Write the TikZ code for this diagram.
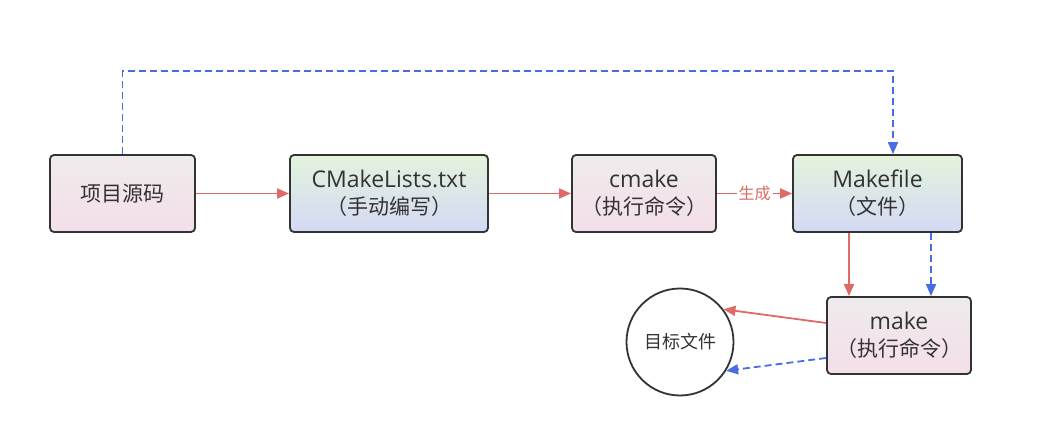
\documentclass[tikz,border=0pt]{standalone}
\usepackage{fontspec}
\setmainfont{Noto Sans CJK SC}
\newfontfamily\lat{Open Sans}
\usetikzlibrary{arrows.meta}
\definecolor{redl}{RGB}{222,106,104}
\definecolor{bluel}{RGB}{72,108,226}
\definecolor{gtop}{RGB}{238,235,236}
\definecolor{gbot}{RGB}{244,222,234}
\definecolor{ctop}{RGB}{227,243,220}
\definecolor{cbot}{RGB}{211,217,245}
\definecolor{txt}{RGB}{51,51,51}
\newcommand\latn[1]{{\lat\fontsize{23}{27}\selectfont #1}}
\begin{document}
\begin{tikzpicture}[x=1pt,y=-1pt,
  box/.style={draw=txt, line width=1.8pt, rounded corners=4pt, minimum height=77pt,
    align=center, text=txt, font=\fontsize{21}{27}\selectfont, inner sep=0pt},
  pinkbox/.style={box, top color=gtop, bottom color=gbot},
  greenbox/.style={box, top color=ctop, bottom color=cbot},
  redarr/.style={draw=redl, line width=1.8pt, -{Triangle[length=12pt,width=10pt]}},
  bluearr/.style={draw=bluel, line width=1.8pt, dash pattern=on 7pt off 4pt, -{Triangle[length=12pt,width=10pt]}},
  lab/.style={fill=white, text=redl, font=\fontsize{16}{18}\selectfont, inner sep=2pt}
]
\useasboundingbox (0,0) rectangle (1055,430);
\node[pinkbox, minimum width=145pt] (src) at (122.5,193.5) {项目源码};
\node[greenbox, minimum width=198pt] (cml) at (389,193.5) {\latn{CMakeLists.txt}\\（手动编写）};
\node[pinkbox, minimum width=144pt] (cmk) at (644,193.5) {\latn{cmake}\\（执行命令）};
\node[greenbox, minimum width=169pt] (mkf) at (877.5,193.5) {\latn{Makefile}\\（文件）};
\node[pinkbox, minimum width=144pt] (mk) at (899,335.5) {\latn{make}\\（执行命令）};
\node[draw=txt, line width=1.8pt, circle, minimum size=107pt, inner sep=0pt, text=txt,
  font=\fontsize{18}{20}\selectfont] (tgt) at (680,342) {目标文件};

\draw[redarr] (src.east) -- (cml.west);
\draw[redarr] (cml.east) -- (cmk.west);
\draw[redarr] (cmk.east) -- node[lab] {生成} (mkf.west);
\draw[bluearr] (src.north) -- ++(0,-83) -| ([xshift=15.5pt]mkf.north);
\draw[redarr] ([xshift=-28.5pt]mkf.south) -- ([xshift=-28.5pt]mkf.south |- mk.north);
\draw[bluearr] ([xshift=53.5pt]mkf.south) -- ([xshift=53.5pt]mkf.south |- mk.north);
\draw[redarr] ([yshift=12.5pt]mk.west) -- (tgt.37);
\draw[bluearr] ([yshift=-22.5pt]mk.west) -- (tgt.-32);
\end{tikzpicture}
\end{document}
